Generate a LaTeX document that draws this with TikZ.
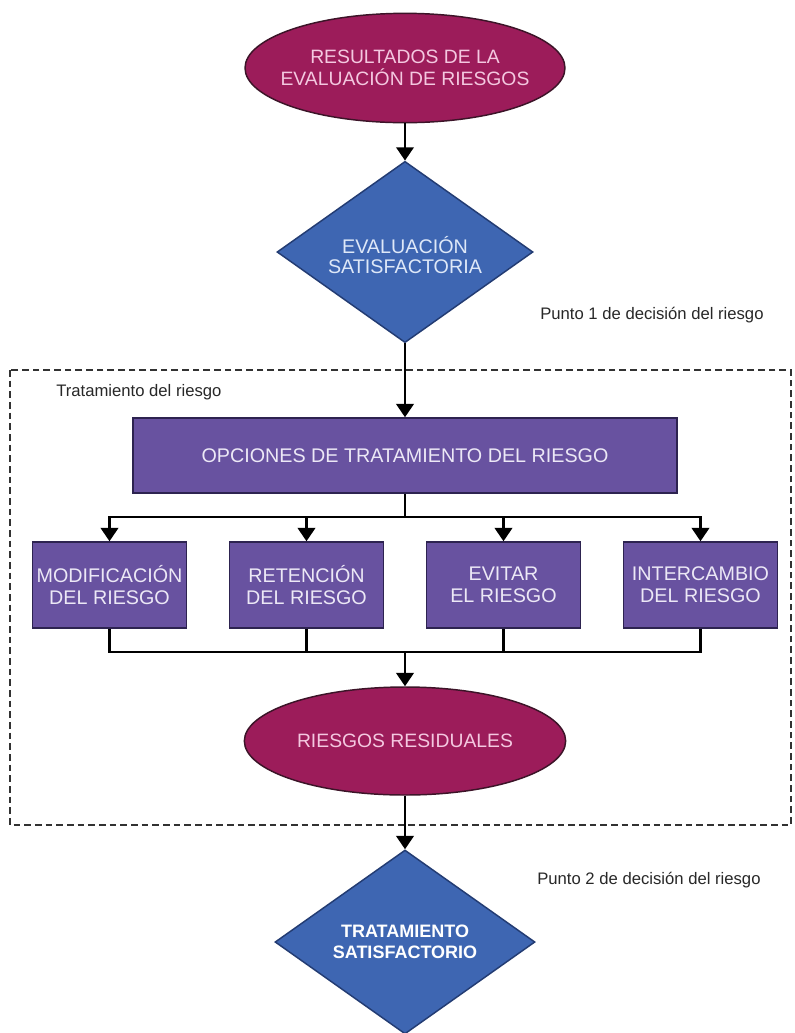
\documentclass[tikz,border=0pt]{standalone}
\usepackage{fontspec}
\setmainfont{Liberation Sans}
\usetikzlibrary{shapes.geometric,arrows.meta}
\definecolor{ellfill}{RGB}{156,28,90}
\definecolor{ellline}{RGB}{60,20,40}
\definecolor{elltext}{RGB}{244,200,224}
\definecolor{diafill}{RGB}{62,102,178}
\definecolor{dialine}{RGB}{35,60,115}
\definecolor{diatext}{RGB}{222,232,248}
\definecolor{recfill}{RGB}{104,82,160}
\definecolor{recline}{RGB}{45,35,80}
\definecolor{rectext}{RGB}{236,232,246}
\definecolor{framec}{RGB}{50,50,50}
\definecolor{labc}{RGB}{40,40,40}
\tikzset{
  ellshape/.style={ellipse, draw=ellline, fill=ellfill, line width=1.1pt, inner sep=0pt},
  diashape/.style={diamond, draw=dialine, fill=diafill, line width=1.1pt, inner sep=0pt, aspect=1.414},
  recbox/.style={rectangle, draw=recline, fill=recfill, line width=1.1pt, inner xsep=1pt, align=center, text=rectext, font=\fontsize{14.8}{16.5}\selectfont},
  elltxt/.style={align=center, text=elltext, inner sep=0pt, font=\fontsize{14.5}{16.5}\selectfont},
  diatxt/.style={align=center, text=diatext, inner sep=0pt, font=\fontsize{14.8}{15.5}\selectfont},
  diatxtb/.style={align=center, text=white, inner sep=0pt, font=\bfseries\fontsize{13.5}{16}\selectfont},
  labtxt/.style={text=labc, inner sep=0pt, font=\fontsize{12.5}{14}\selectfont},
  arr/.style={line width=2pt, -{Triangle[width=13pt,length=10pt]}},
  conn/.style={line width=2pt},
  frame/.style={draw=framec, line width=1.1pt, dash pattern=on 5pt off 3pt}
}
\begin{document}
\begin{tikzpicture}[x=0.75pt,y=-0.75pt]
\useasboundingbox (0,0) rectangle (794,1033);
\fill[white] (0,0) rectangle (794,1033);

% dashed frame
\draw[frame] (10,370) rectangle (791,825);
\node[labtxt, anchor=west] (lt) at (56,392) {Tratamiento del riesgo};

% top ellipse
\node[ellshape, minimum width=240pt, minimum height=82pt] (res1) at (405,68) {};
\node[elltxt] (res1t) at (res1.center) {RESULTADOS DE LA\\EVALUACIÓN DE RIESGOS};

% diamond 1
\node[diashape, minimum width=192pt, minimum height=136pt] (d1) at (405,252) {};
\node[diatxt] (d1t) at (405,255) {EVALUACIÓN\\SATISFACTORIA};
\node[labtxt, anchor=west] (p1) at (540,315) {Punto 1 de decisión del riesgo};

% options rectangle
\node[recbox, minimum width=408pt, minimum height=56.25pt] (opt) at (405,455.5) {OPCIONES DE TRATAMIENTO DEL RIESGO};

% four boxes
\node[recbox, minimum width=115.5pt, minimum height=64.5pt] (b1) at (109.5,585) {MODIFICACIÓN\\DEL RIESGO};
\node[recbox, minimum width=115.5pt, minimum height=64.5pt] (b2) at (306.5,585) {RETENCIÓN\\DEL RIESGO};
\node[recbox, minimum width=115.5pt, minimum height=64.5pt] (b3) at (503.5,585) {EVITAR\\EL RIESGO};
\node[recbox, minimum width=115.5pt, minimum height=64.5pt] (b4) at (700.5,585) {INTERCAMBIO\\DEL RIESGO};

% residual ellipse
\node[ellshape, minimum width=241pt, minimum height=81pt] (res2) at (405,741) {};
\node[elltxt] (res2t) at (res2.center) {RIESGOS RESIDUALES};

% diamond 2
\node[diashape, minimum width=195pt, minimum height=138pt] (d2) at (405,942) {};
\node[diatxtb] (d2t) at (405,942) {TRATAMIENTO\\SATISFACTORIO};
\node[labtxt, anchor=west] (p2) at (537,880) {Punto 2 de decisión del riesgo};

% connectors
\coordinate (bus1) at (405,517);
\coordinate (bus2) at (405,652);
\draw[arr] (res1.south) -- (d1.north);
\draw[arr] (d1.south) -- (opt.north);
\draw[conn] (opt.south) -- (bus1);
\draw[arr] (bus1) -| (b1.north);
\draw[arr] (bus1) -| (b2.north);
\draw[arr] (bus1) -| (b3.north);
\draw[arr] (bus1) -| (b4.north);
\draw[conn] (b1.south) |- (bus2);
\draw[conn] (b2.south) |- (bus2);
\draw[conn] (b3.south) |- (bus2);
\draw[conn] (b4.south) |- (bus2);
\draw[arr] (bus2) -- (res2.north);
\draw[arr] (res2.south) -- (d2.north);
\end{tikzpicture}
\end{document}
